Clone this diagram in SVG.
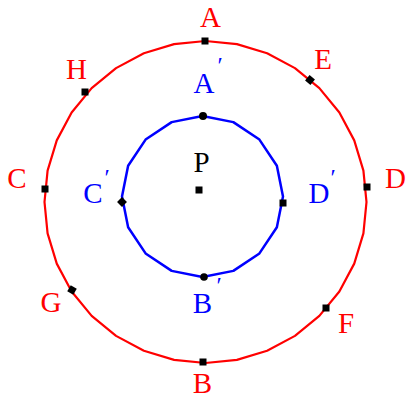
<svg xmlns="http://www.w3.org/2000/svg" width="407" height="399" viewBox="0 0 407 399">
<style>
.lbl{font-family:"Liberation Serif","Times New Roman",serif;font-size:29px;text-anchor:middle}
.red{fill:#ff0000}
.blue{fill:#0000ff}
.blk{fill:#000000}
.pr{font-size:24px}
.mk{fill:#000000}
.outer{fill:none;stroke:#ff0000;stroke-width:2.2;stroke-linejoin:round}
.inner{fill:none;stroke:#0000ff;stroke-width:2.5;stroke-linejoin:round}
</style>
<defs>
<rect id="sq" x="-3.5" y="-3.5" width="7" height="7"/>
</defs>
<g id="connectors">
<polygon class="outer" points="205.5,41 236.91,44.09 267.11,53.26 294.95,68.13 319.34,88.16 339.37,112.55 354.24,140.39 363.41,170.59 366.5,202 363.41,233.41 354.24,263.61 339.37,291.45 319.34,315.84 294.95,335.87 267.11,350.74 236.91,359.91 205.5,363 174.09,359.91 143.89,350.74 116.05,335.87 91.66,315.84 71.63,291.45 56.76,263.61 47.59,233.41 44.5,202 47.59,170.59 56.76,140.39 71.63,112.55 91.66,88.16 116.05,68.13 143.89,53.26 174.09,44.09"/>
<polygon class="inner" points="202.5,116 233.31,122.13 259.42,139.58 276.87,165.69 283,196.5 276.87,227.31 259.42,253.42 233.31,270.87 202.5,277 171.69,270.87 145.58,253.42 128.13,227.31 122,196.5 128.13,165.69 145.58,139.58 171.69,122.13"/>
</g>
<g id="A"><use href="#sq" class="mk" x="205" y="41"/><text class="lbl red" x="210.5" y="27">A</text></g>
<g id="E"><use href="#sq" class="mk" x="310" y="80" transform="rotate(40 310 80)"/><text class="lbl red" x="323" y="69">E</text></g>
<g id="D"><use href="#sq" class="mk" x="367" y="187"/><text class="lbl red" x="395.5" y="188">D</text></g>
<g id="F"><use href="#sq" class="mk" x="326" y="308"/><text class="lbl red" x="346" y="333">F</text></g>
<g id="B"><use href="#sq" class="mk" x="203" y="362"/><text class="lbl red" x="202.5" y="393">B</text></g>
<g id="G"><use href="#sq" class="mk" x="72" y="290" transform="rotate(30 72 290)"/><text class="lbl red" x="51" y="312">G</text></g>
<g id="C"><use href="#sq" class="mk" x="45" y="189"/><text class="lbl red" x="17" y="188">C</text></g>
<g id="H"><use href="#sq" class="mk" x="85" y="92"/><text class="lbl red" x="76.5" y="79">H</text></g>
<g id="A1"><circle class="mk" cx="203" cy="116" r="4"/><text class="lbl blue" x="204" y="93">A<tspan class="pr" x="220" y="73">′</tspan></text></g>
<g id="D1"><use href="#sq" class="mk" x="283" y="203"/><text class="lbl blue" x="319" y="203">D<tspan class="pr" x="333" y="185">′</tspan></text></g>
<g id="B1"><circle class="mk" cx="204" cy="277" r="3.8"/><text class="lbl blue" x="202.5" y="313">B<tspan class="pr" x="219" y="293">′</tspan></text></g>
<g id="C1"><use href="#sq" class="mk" x="122" y="202" transform="rotate(45 122 202)"/><text class="lbl blue" x="93" y="203">C<tspan class="pr" x="107" y="185">′</tspan></text></g>
<g id="P"><use href="#sq" class="mk" x="199" y="190"/><text class="lbl blk" x="201.5" y="172">P</text></g>
</svg>
